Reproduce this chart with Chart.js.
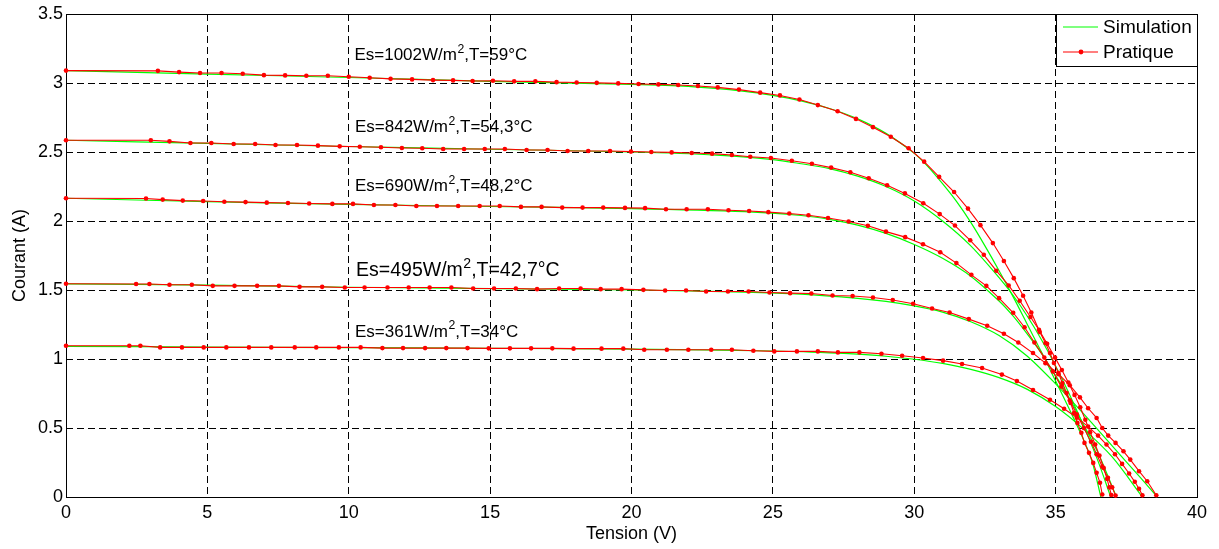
<!DOCTYPE html>
<html><head><meta charset="utf-8">
<script src="https://cdn.jsdelivr.net/npm/chart.js@4/dist/chart.umd.min.js"></script>
<style>html,body{margin:0;padding:0;background:#fff}#wrap{width:1219px;height:549px;position:relative}</style>
</head><body><div id="wrap"><canvas id="c" width="1219" height="549"></canvas></div>
<script>
// ---------- DATA ----------
const xTicks = [0, 5, 10, 15, 20, 25, 30, 35, 40];
const yTicks = [0, 0.5, 1, 1.5, 2, 2.5, 3, 3.5];
const legendLabels = ['Simulation', 'Pratique'];
const curveNames = ['1002', '842', '690', '495', '361'];

// Pratique (measured) - voltage / current
const vR1002 = [0, 3.25, 4.0, 4.74, 5.5, 6.25, 7.0, 7.75, 8.5, 9.26, 10.0, 10.74, 11.48, 12.24, 12.98, 13.69, 14.38, 15.1, 15.85, 16.6, 17.35, 18.06, 18.77, 19.53, 20.25, 20.95, 21.65, 22.35, 23.05, 23.8, 24.55, 25.25, 25.94, 26.59, 27.29, 27.94, 28.54, 29.17, 29.8, 30.35, 30.88, 31.41, 31.9, 32.34, 32.78, 33.17, 33.52, 33.85, 34.14, 34.44, 34.64, 34.8, 34.94, 35.1, 35.24, 35.39, 35.53, 35.65, 35.77, 35.91, 36.02, 36.18, 36.33, 36.45, 36.57, 36.65];
const iR1002 = [3.09, 3.088, 3.079, 3.072, 3.072, 3.067, 3.057, 3.055, 3.052, 3.052, 3.045, 3.038, 3.03, 3.026, 3.021, 3.019, 3.014, 3.016, 3.012, 3.012, 3.006, 3.004, 3.001, 2.997, 2.993, 2.99, 2.985, 2.978, 2.968, 2.952, 2.93, 2.91, 2.88, 2.84, 2.795, 2.74, 2.68, 2.61, 2.527, 2.43, 2.32, 2.21, 2.09, 1.97, 1.84, 1.71, 1.586, 1.458, 1.337, 1.195, 1.116, 1.043, 0.971, 0.899, 0.826, 0.754, 0.682, 0.609, 0.537, 0.465, 0.392, 0.32, 0.247, 0.175, 0.103, 0.018];

const vR842 = [0, 3.0, 3.66, 4.4, 5.14, 5.93, 6.69, 7.41, 8.17, 8.91, 9.68, 10.39, 11.14, 11.88, 12.6, 13.34, 14.08, 14.81, 15.52, 16.29, 17.03, 17.74, 18.47, 19.24, 19.98, 20.7, 21.42, 22.13, 22.85, 23.55, 24.2, 24.93, 25.67, 26.38, 27.06, 27.74, 28.39, 29.04, 29.67, 30.32, 30.9, 31.44, 31.98, 32.46, 32.9, 33.34, 33.73, 34.11, 34.41, 34.7, 34.98, 35.22, 35.45, 35.67, 35.87, 36.05, 36.22, 36.4, 36.55, 36.7, 36.82, 36.9, 36.97];
const iR842 = [2.585, 2.585, 2.577, 2.565, 2.565, 2.558, 2.558, 2.551, 2.551, 2.546, 2.541, 2.538, 2.534, 2.529, 2.527, 2.522, 2.522, 2.522, 2.522, 2.514, 2.514, 2.507, 2.507, 2.507, 2.503, 2.5, 2.497, 2.493, 2.488, 2.478, 2.466, 2.457, 2.437, 2.415, 2.387, 2.353, 2.31, 2.259, 2.2, 2.129, 2.05, 1.967, 1.86, 1.755, 1.64, 1.533, 1.422, 1.304, 1.212, 1.11, 1.01, 0.92, 0.83, 0.74, 0.65, 0.56, 0.47, 0.38, 0.3, 0.21, 0.13, 0.07, 0.015];

const vR690 = [0, 2.83, 3.42, 4.13, 4.85, 5.6, 6.35, 7.1, 7.85, 8.6, 9.42, 10.15, 10.89, 11.65, 12.39, 13.12, 13.87, 14.63, 15.34, 16.09, 16.82, 17.55, 18.27, 19.0, 19.77, 20.48, 21.22, 21.95, 22.7, 23.43, 24.16, 24.84, 25.58, 26.26, 26.95, 27.68, 28.36, 29.0, 29.68, 30.31, 30.92, 31.49, 32.02, 32.55, 33.0, 33.5, 33.9, 34.25, 34.6, 34.9, 35.2, 35.5, 35.75, 36.0, 36.25, 36.45, 36.65, 36.85, 37.0, 37.12];
const iR690 = [2.165, 2.163, 2.155, 2.148, 2.145, 2.14, 2.137, 2.133, 2.13, 2.127, 2.124, 2.124, 2.116, 2.116, 2.109, 2.109, 2.109, 2.109, 2.109, 2.102, 2.102, 2.097, 2.097, 2.097, 2.095, 2.093, 2.085, 2.085, 2.085, 2.078, 2.073, 2.064, 2.054, 2.042, 2.022, 1.996, 1.965, 1.923, 1.883, 1.832, 1.774, 1.695, 1.61, 1.53, 1.441, 1.335, 1.23, 1.12, 1.01, 0.91, 0.8, 0.7, 0.6, 0.5, 0.4, 0.31, 0.22, 0.14, 0.07, 0.01];

const vR495 = [0, 2.48, 2.95, 3.66, 4.45, 5.19, 5.96, 6.76, 7.53, 8.26, 9.06, 9.86, 10.56, 11.37, 12.12, 12.86, 13.63, 14.4, 15.14, 15.91, 16.66, 17.44, 18.2, 18.91, 19.65, 20.42, 21.19, 21.93, 22.64, 23.41, 24.14, 24.88, 25.61, 26.36, 27.11, 27.82, 28.54, 29.24, 29.96, 30.63, 31.25, 31.93, 32.58, 33.17, 33.68, 34.2, 34.64, 35.1, 35.5, 35.86, 36.15, 36.45, 36.65, 36.86, 37.12, 37.4, 37.64, 37.95, 38.24, 38.56];
const iR495 = [1.545, 1.543, 1.543, 1.538, 1.538, 1.53, 1.53, 1.53, 1.53, 1.523, 1.523, 1.518, 1.518, 1.518, 1.518, 1.518, 1.518, 1.511, 1.511, 1.511, 1.506, 1.511, 1.511, 1.506, 1.506, 1.501, 1.496, 1.496, 1.489, 1.489, 1.489, 1.482, 1.477, 1.475, 1.46, 1.456, 1.446, 1.427, 1.4, 1.366, 1.337, 1.289, 1.241, 1.183, 1.12, 1.043, 0.97, 0.89, 0.81, 0.722, 0.643, 0.573, 0.5, 0.445, 0.392, 0.331, 0.271, 0.187, 0.114, 0.013];

const vR361 = [0, 2.24, 2.63, 3.33, 4.1, 4.87, 5.67, 6.47, 7.26, 8.09, 8.85, 9.65, 10.42, 11.19, 11.92, 12.7, 13.45, 14.2, 14.95, 15.7, 16.45, 17.2, 17.95, 18.94, 19.71, 20.45, 21.25, 22.01, 22.82, 23.55, 24.31, 25.05, 25.85, 26.59, 27.3, 28.06, 28.84, 29.57, 30.31, 31.02, 31.69, 32.4, 33.1, 33.63, 34.2, 34.8, 35.3, 35.75, 36.15, 36.5, 36.8, 37.1, 37.35, 37.6, 37.8, 37.95, 38.07];
const iR361 = [1.096, 1.096, 1.096, 1.084, 1.084, 1.084, 1.084, 1.084, 1.084, 1.084, 1.084, 1.084, 1.084, 1.079, 1.079, 1.079, 1.079, 1.079, 1.077, 1.077, 1.077, 1.077, 1.075, 1.075, 1.075, 1.067, 1.067, 1.067, 1.067, 1.067, 1.06, 1.055, 1.055, 1.055, 1.048, 1.048, 1.038, 1.024, 1.007, 0.988, 0.964, 0.935, 0.887, 0.84, 0.775, 0.705, 0.64, 0.575, 0.51, 0.445, 0.38, 0.31, 0.24, 0.17, 0.11, 0.06, 0.012];

// Simulation - voltage / current
const vG1002 = [0, 5, 10, 15, 20, 22, 24, 25, 26, 27, 28, 29, 30, 30.5, 31, 31.5, 32, 32.5, 33, 33.5, 34, 34.5, 35, 35.5, 36, 36.3, 36.6];
const iG1002 = [3.09, 3.065, 3.04, 3.012, 2.99, 2.975, 2.94, 2.91, 2.87, 2.815, 2.74, 2.635, 2.49, 2.39, 2.27, 2.14, 1.99, 1.82, 1.64, 1.45, 1.25, 1.05, 0.84, 0.63, 0.41, 0.25, 0.0];
const vG842 = [0, 5, 10, 15, 20, 23, 25, 26, 27, 28, 29, 30, 31, 32, 33, 33.5, 34, 34.5, 35, 35.5, 36, 36.5, 36.95];
const iG842 = [2.585, 2.562, 2.54, 2.52, 2.5, 2.478, 2.445, 2.415, 2.38, 2.325, 2.25, 2.145, 2.0, 1.82, 1.59, 1.46, 1.31, 1.14, 0.95, 0.74, 0.51, 0.26, 0.0];
const vG690 = [0, 5, 10, 15, 20, 24, 26, 27, 28, 29, 30, 31, 32, 33, 33.5, 34, 34.5, 35, 35.5, 36, 36.5, 37.15];
const iG690 = [2.165, 2.14, 2.12, 2.105, 2.09, 2.068, 2.04, 2.012, 1.97, 1.91, 1.83, 1.73, 1.6, 1.42, 1.31, 1.18, 1.04, 0.88, 0.71, 0.52, 0.32, 0.0];
const vG495 = [0, 5, 10, 15, 20, 24, 26, 28, 29, 30, 31, 32, 33, 34, 35, 36, 37, 38, 38.6];
const iG495 = [1.545, 1.535, 1.52, 1.51, 1.5, 1.485, 1.47, 1.44, 1.418, 1.385, 1.34, 1.27, 1.17, 1.02, 0.82, 0.6, 0.37, 0.14, 0.0];
const vG361 = [0, 5, 10, 15, 20, 25, 27, 28, 29, 30, 31, 32, 33, 34, 35, 36, 37, 38.07];
const iG361 = [1.092, 1.087, 1.082, 1.078, 1.072, 1.058, 1.045, 1.035, 1.02, 0.998, 0.968, 0.925, 0.865, 0.78, 0.655, 0.49, 0.29, 0.0];

// Annotation texts (base, superscript, rest) and their anchors in data units
const annotText = [
  ['Es=1002W/m', '2', ',T=59°C'],
  ['Es=842W/m', '2', ',T=54,3°C'],
  ['Es=690W/m', '2', ',T=48,2°C'],
  ['Es=495W/m', '2', ',T=42,7°C'],
  ['Es=361W/m', '2', ',T=34°C']
];
const annotV = [10.2, 10.22, 10.22, 10.26, 10.22];
const annotI = [3.166, 2.647, 2.22, 1.603, 1.163];

// ---------- BUILD ----------
const pts = (v, i) => v.map((x, k) => ({x: x, y: i[k]}));
const redSets = [[vR1002, iR1002], [vR842, iR842], [vR690, iR690], [vR495, iR495], [vR361, iR361]];
const greenSets = [[vG1002, iG1002], [vG842, iG842], [vG690, iG690], [vG495, iG495], [vG361, iG361]];

const GREEN = '#00ff00', RED = '#ff0000';
const FONT = '"Liberation Sans", Arial, Helvetica, sans-serif';
const datasets = [];
greenSets.forEach((s, k) => datasets.push({
  label: legendLabels[0] + ' ' + curveNames[k], data: pts(s[0], s[1]), showLine: true,
  borderColor: GREEN, borderWidth: 1.2, pointRadius: 0, tension: 0.3, order: 1, clip: 6
}));
redSets.forEach((s, k) => datasets.push({
  label: legendLabels[1] + ' ' + curveNames[k], data: pts(s[0], s[1]), showLine: true,
  borderColor: RED, borderWidth: 1.1, pointRadius: 2.3, pointBackgroundColor: RED,
  pointBorderWidth: 0, tension: 0, order: 0, clip: 6
}));

const deco = {
  id: 'deco',
  beforeDatasetsDraw(chart) {
    const {ctx, chartArea: a} = chart;
    ctx.save();
    ctx.setLineDash([]);
    ctx.strokeStyle = '#000'; ctx.lineWidth = 1;
    ctx.strokeRect(Math.round(a.left) + 0.5, Math.round(a.top) + 0.5, Math.round(a.right - a.left), Math.round(a.bottom - a.top));
    ctx.restore();
  },
  afterDatasetsDraw(chart) {
    const {ctx, chartArea: a, scales: {x, y}} = chart;
    ctx.save();
    ctx.fillStyle = '#000';
    ctx.textBaseline = 'alphabetic';
    annotText.forEach((t, k) => {
      const size = k === 3 ? 19.5 : 17;
      let px = x.getPixelForValue(annotV[k]);
      const py = y.getPixelForValue(annotI[k]);
      ctx.font = size + 'px ' + FONT;
      ctx.fillText(t[0], px, py); px += ctx.measureText(t[0]).width;
      ctx.font = (size * 0.72) + 'px ' + FONT;
      ctx.fillText(t[1], px + 0.5, py - size * 0.42); px += ctx.measureText(t[1]).width + 0.5;
      ctx.font = size + 'px ' + FONT;
      ctx.fillText(t[2], px, py);
    });
    // legend
    const bw = 141, bh = 52;
    const bx = Math.round(a.right) - bw, by = Math.round(a.top);
    ctx.fillStyle = '#fff';
    ctx.fillRect(bx, by, bw, bh);
    ctx.strokeStyle = '#000'; ctx.lineWidth = 1; ctx.setLineDash([]);
    ctx.strokeRect(bx + 0.5, by + 0.5, bw, bh);
    const rows = [by + 13, by + 38];
    ctx.strokeStyle = GREEN; ctx.lineWidth = 1.2;
    ctx.beginPath(); ctx.moveTo(bx + 7, rows[0]); ctx.lineTo(bx + 42, rows[0]); ctx.stroke();
    ctx.strokeStyle = RED; ctx.lineWidth = 1.1;
    ctx.beginPath(); ctx.moveTo(bx + 7, rows[1]); ctx.lineTo(bx + 42, rows[1]); ctx.stroke();
    ctx.fillStyle = RED;
    ctx.beginPath(); ctx.arc(bx + 25, rows[1], 2.4, 0, Math.PI * 2); ctx.fill();
    ctx.fillStyle = '#000';
    ctx.font = '19px ' + FONT;
    ctx.textBaseline = 'middle';
    ctx.fillText(legendLabels[0], bx + 47, rows[0] + 1);
    ctx.fillText(legendLabels[1], bx + 47, rows[1] + 1);
    ctx.restore();
  }
};

const tickFont = {family: FONT, size: 18};
const fmt = v => String(v);
new Chart(document.getElementById('c'), {
  type: 'scatter',
  data: {datasets},
  plugins: [deco],
  options: {
    responsive: false, animation: false, devicePixelRatio: 1,
    layout: {padding: {left: 0, right: 22, top: 14, bottom: 0}},
    plugins: {legend: {display: false}, tooltip: {enabled: false}},
    elements: {line: {fill: false}},
    scales: {
      x: {
        type: 'linear', min: xTicks[0], max: xTicks[xTicks.length - 1],
        afterBuildTicks: s => { s.ticks = xTicks.map(v => ({value: v})); },
        ticks: {color: '#000', font: tickFont, padding: 5, maxRotation: 0, autoSkip: false, callback: fmt},
        grid: {color: '#000', lineWidth: 1, drawTicks: false},
        border: {display: false, dash: [7, 4]},
        title: {display: true, text: 'Tension (V)', color: '#000', font: tickFont, padding: {top: 0, bottom: 4}},
        afterFit: s => { s.height = 52; }
      },
      y: {
        type: 'linear', min: yTicks[0], max: yTicks[yTicks.length - 1],
        afterBuildTicks: s => { s.ticks = yTicks.map(v => ({value: v})); },
        ticks: {color: '#000', font: tickFont, padding: 3, autoSkip: false, callback: fmt},
        grid: {color: '#000', lineWidth: 1, drawTicks: false},
        border: {display: false, dash: [7, 4]},
        title: {display: true, text: 'Courant (A)', color: '#000', font: tickFont, padding: {top: 9, bottom: 0}},
        afterFit: s => { s.width = 66; }
      }
    }
  }
});
</script></body></html>
